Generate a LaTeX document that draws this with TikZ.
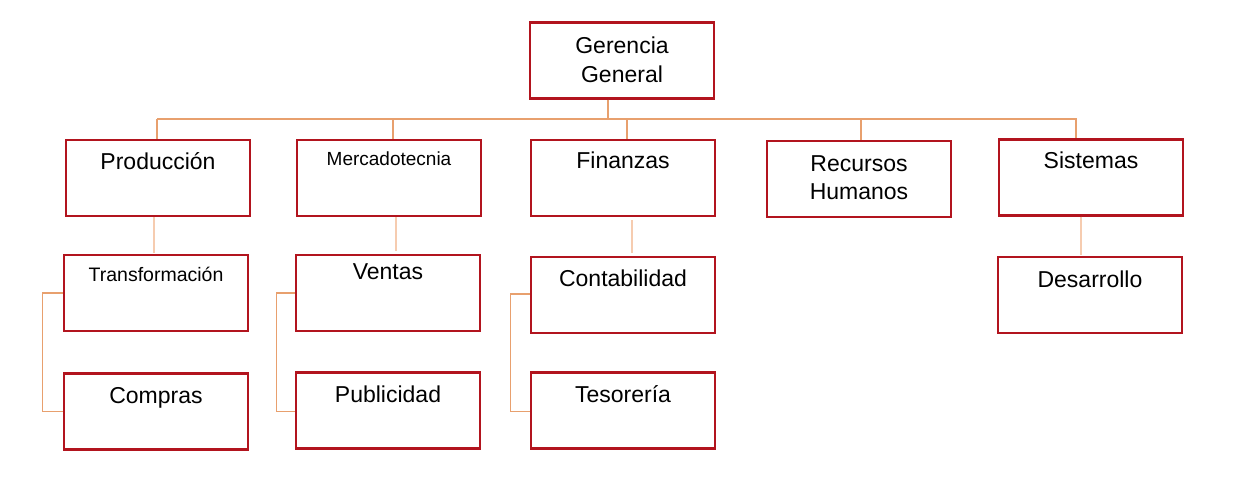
\documentclass[tikz,border=0pt]{standalone}
\usepackage{fontspec}
\setmainfont{Liberation Sans}
\definecolor{boxred}{RGB}{178,20,30}
\definecolor{busor}{RGB}{232,160,110}
\definecolor{lightor}{RGB}{246,204,176}
\begin{document}
\begin{tikzpicture}[x=1pt,y=-1pt,
  orgbox/.style={draw=boxred,line width=2.4pt,minimum width=184pt,minimum height=76pt,inner sep=0pt,fill=white},
  lbl/.style={anchor=base,inner sep=0pt,font=\fontsize{23}{27}\selectfont},
  lblsmall/.style={anchor=base,inner sep=0pt,font=\fontsize{19}{23}\selectfont},
  lblmid/.style={anchor=base,inner sep=0pt,font=\fontsize{19.5}{23}\selectfont},
  bus/.style={draw=busor,line width=1.2pt},
  childline/.style={draw=lightor,line width=1.2pt}]
\useasboundingbox[fill=white] (0,0) rectangle (1253,491);
% boxes
\node[orgbox] (gg) at (622,60.5) {};
\node[orgbox] (prod) at (158,178) {};
\node[orgbox] (merc) at (389,178) {};
\node[orgbox] (fin) at (623,178) {};
\node[orgbox] (rh) at (859,179) {};
\node[orgbox] (sis) at (1091,177.5) {};
\node[orgbox] (trans) at (156,293) {};
\node[orgbox] (ventas) at (388,293) {};
\node[orgbox] (cont) at (623,295) {};
\node[orgbox] (des) at (1090,295) {};
\node[orgbox] (compras) at (156,411.5) {};
\node[orgbox] (pub) at (388,410.5) {};
\node[orgbox] (tes) at (623,410.5) {};
% labels
\node[lbl] (t-gg1) at (622,53) {Gerencia};
\node[lbl] (t-gg2) at (622,82) {General};
\node[lbl] (t-prod) at (158,169) {Producción};
\node[lblsmall] (t-merc) at (389,165) {Mercadotecnia};
\node[lbl] (t-fin) at (623,168) {Finanzas};
\node[lbl] (t-rh1) at (859,171) {Recursos};
\node[lbl] (t-rh2) at (859,199) {Humanos};
\node[lbl] (t-sis) at (1091,168) {Sistemas};
\node[lblmid] (t-trans) at (156,281) {Transformación};
\node[lbl] (t-ventas) at (388,279) {Ventas};
\node[lbl] (t-cont) at (623,286) {Contabilidad};
\node[lbl] (t-des) at (1090,287) {Desarrollo};
\node[lbl] (t-compras) at (156,403) {Compras};
\node[lbl] (t-pub) at (388,402) {Publicidad};
\node[lbl] (t-tes) at (623,402) {Tesorería};
% bus
\coordinate (busL) at (157,119);
\coordinate (busR) at (1077,119);
\draw[bus] (busL) -- (busR);
\draw[bus] ([xshift=-14pt]gg.south) -- ([xshift=-14pt]gg.south |- busL);
\draw[bus] ([xshift=-1pt]prod.north |- busL) -- ([xshift=-1pt]prod.north);
\draw[bus] ([xshift=4pt]merc.north |- busL) -- ([xshift=4pt]merc.north);
\draw[bus] ([xshift=4pt]fin.north |- busL) -- ([xshift=4pt]fin.north);
\draw[bus] ([xshift=2pt]rh.north |- busL) -- ([xshift=2pt]rh.north);
\draw[bus] ([xshift=-15pt]sis.north |- busL) -- ([xshift=-15pt]sis.north);
% children
\draw[childline] ([xshift=-4pt]prod.south) -- ([xshift=-4pt,yshift=1pt]prod.south |- trans.north);
\draw[childline] ([xshift=7pt]merc.south) -- ([xshift=7pt,yshift=3pt]merc.south |- ventas.north);
\draw[childline] ([xshift=9pt,yshift=-3pt]fin.south) -- ([xshift=9pt,yshift=3pt]fin.south |- cont.north);
\draw[childline] ([xshift=-10pt]sis.south) -- ([xshift=-10pt,yshift=1pt]sis.south |- des.north);
% brackets
\draw[bus] (trans.west) -- ++(-20,0) |- (compras.west);
\draw[bus] (ventas.west) -- ++(-18,0) |- ([yshift=-1pt]pub.west);
\draw[bus] ([yshift=1pt]cont.west) -- ++(-19,0) |- ([yshift=-1pt]tes.west);
\end{tikzpicture}
\end{document}
